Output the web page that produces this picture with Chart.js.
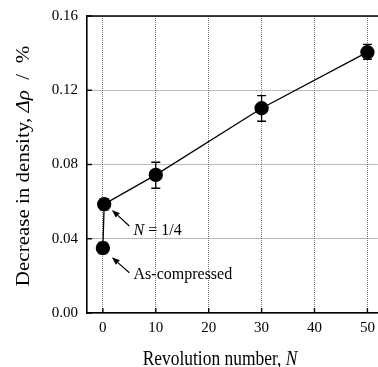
<!DOCTYPE html>
<html><head><meta charset="utf-8">
<script src="https://cdn.jsdelivr.net/npm/chart.js@4/dist/chart.umd.min.js"></script>
<style>html,body{margin:0;padding:0;background:#fff;overflow:hidden}#wrap{width:378px;height:367px;position:relative}</style>
</head><body><div id="wrap"><canvas id="c"></canvas></div>
<script>
// ---- data ----
const revolutions = [0, 0.25, 10, 30, 50];
const densityDecrease = [0.035, 0.0586, 0.0744, 0.1103, 0.1405];
const errorPlus = [0.003, 0.003, 0.0068, 0.0068, 0.0042];
const errorMinus = [0.003, 0.003, 0.0072, 0.007, 0.0038];
const xTicks = [0, 10, 20, 30, 40, 50];
const yTicks = [0, 0.04, 0.08, 0.12, 0.16];
const noteItalic = ['N', ''];
const noteText = [' = 1/4', 'As-compressed'];
const noteX = [5.8, 5.8];
const noteY = [0.0445, 0.0205];
const arrowTailX = [5.0, 5.0];
const arrowTailY = [0.0469, 0.0217];
const arrowHeadX = [1.7, 1.7];
const arrowHeadY = [0.0555, 0.0300];
const xTitle = ['Revolution number, ', 'N'];
const yTitle = ['Decrease in density, ', '\u0394\u03C1', '  /  %'];

const SERIF = '"Liberation Serif", "Times New Roman", serif';

const decor = {
  id: 'decor',
  afterDatasetsDraw(chart) {
    const ctx = chart.ctx, xs = chart.scales.x, ys = chart.scales.y, a = chart.chartArea;
    ctx.save();
    // top border
    ctx.strokeStyle = '#000'; ctx.lineWidth = 1.6;
    ctx.beginPath(); ctx.moveTo(a.left - 0.8, a.top); ctx.lineTo(a.right, a.top); ctx.stroke();
    // inward ticks
    ctx.lineWidth = 1.4;
    xTicks.forEach(v => { const px = xs.getPixelForValue(v); ctx.beginPath(); ctx.moveTo(px, a.bottom); ctx.lineTo(px, a.bottom - 5); ctx.stroke(); });
    yTicks.forEach(v => { const py = ys.getPixelForValue(v); ctx.beginPath(); ctx.moveTo(a.left, py); ctx.lineTo(a.left + 5, py); ctx.stroke(); });
    // error bars
    ctx.lineWidth = 1.3;
    revolutions.forEach((x, i) => {
      const px = xs.getPixelForValue(x);
      const pt = ys.getPixelForValue(densityDecrease[i] + errorPlus[i]);
      const pb = ys.getPixelForValue(densityDecrease[i] - errorMinus[i]);
      ctx.beginPath();
      ctx.moveTo(px, pt); ctx.lineTo(px, pb);
      ctx.moveTo(px - 4.5, pt); ctx.lineTo(px + 4.5, pt);
      ctx.moveTo(px - 4.5, pb); ctx.lineTo(px + 4.5, pb);
      ctx.stroke();
    });
    // arrows
    ctx.fillStyle = '#000';
    arrowTailX.forEach((tx, i) => {
      const x0 = xs.getPixelForValue(tx), y0 = ys.getPixelForValue(arrowTailY[i]);
      const x1 = xs.getPixelForValue(arrowHeadX[i]), y1 = ys.getPixelForValue(arrowHeadY[i]);
      const ang = Math.atan2(y1 - y0, x1 - x0), L = 8, W = 3;
      const bx = x1 - L * Math.cos(ang), by = y1 - L * Math.sin(ang);
      ctx.lineWidth = 1.2;
      ctx.beginPath(); ctx.moveTo(x0, y0); ctx.lineTo(bx, by); ctx.stroke();
      ctx.beginPath(); ctx.moveTo(x1, y1);
      ctx.lineTo(bx + W * Math.sin(ang), by - W * Math.cos(ang));
      ctx.lineTo(bx - W * Math.sin(ang), by + W * Math.cos(ang));
      ctx.closePath(); ctx.fill();
    });
    // notes
    ctx.textBaseline = 'middle'; ctx.textAlign = 'left';
    noteText.forEach((t, i) => {
      let x = xs.getPixelForValue(noteX[i]); const y = ys.getPixelForValue(noteY[i]);
      if (noteItalic[i]) { ctx.font = 'italic 16px ' + SERIF; ctx.fillText(noteItalic[i], x, y); x += ctx.measureText(noteItalic[i]).width; }
      ctx.font = '16px ' + SERIF; ctx.fillText(t, x, y);
    });
    ctx.restore();
  },
  afterDraw(chart) {
    const ctx = chart.ctx;
    ctx.save();
    ctx.fillStyle = '#000'; ctx.textBaseline = 'alphabetic'; ctx.textAlign = 'left';
    // x title
    const fN = '21px ' + SERIF, fI = 'italic 21px ' + SERIF;
    ctx.font = fN; const w0 = ctx.measureText(xTitle[0]).width; ctx.font = fI; const w1 = ctx.measureText(xTitle[1]).width;
    ctx.save(); ctx.translate(220, 365); ctx.scale(0.83, 1);
    let x = -(w0 + w1) / 2;
    ctx.font = fN; ctx.fillText(xTitle[0], x, 0); ctx.font = fI; ctx.fillText(xTitle[1], x + w0, 0);
    ctx.restore();
    // y title
    const fonts = [fN, fI, fN];
    const ws = yTitle.map((t, i) => { ctx.font = fonts[i]; return ctx.measureText(t).width; });
    const tot = ws.reduce((s, v) => s + v, 0);
    ctx.save(); ctx.translate(29, 166); ctx.scale(0.85, 1); ctx.rotate(-Math.PI / 2);
    x = -tot / 2;
    yTitle.forEach((t, i) => { ctx.font = fonts[i]; ctx.fillText(t, x, 0); x += ws[i]; });
    ctx.restore();
    ctx.restore();
  }
};

new Chart(document.getElementById('c'), {
  type: 'scatter',
  data: {
    datasets: [{
      data: revolutions.map((x, i) => ({ x, y: densityDecrease[i] })),
      showLine: true,
      borderColor: '#000', borderWidth: 1.3,
      backgroundColor: '#000', pointBackgroundColor: '#000', pointBorderColor: '#000',
      pointRadius: 6.5, pointHoverRadius: 6.5, tension: 0
    }]
  },
  options: {
    responsive: true, maintainAspectRatio: false, animation: false,
    devicePixelRatio: 1,
    layout: { autoPadding: false, padding: { top: 16, left: 0, right: 0, bottom: 0 } },
    plugins: { legend: { display: false }, tooltip: { enabled: false } },
    scales: {
      x: {
        type: 'linear', min: -3, max: 52,
        afterBuildTicks: s => { s.ticks = xTicks.map(v => ({ value: v })); },
        afterFit: s => { s.height = 54; s.paddingLeft = 0; s.paddingRight = 0; },
        ticks: { color: '#000', font: { family: SERIF, size: 15 }, padding: 6, maxRotation: 0 },
        grid: { color: '#777', lineWidth: 1, drawTicks: false },
        border: { color: '#000', width: 1.6, dash: [1, 1] }
      },
      y: {
        type: 'linear', min: 0, max: 0.16,
        afterBuildTicks: s => { s.ticks = yTicks.map(v => ({ value: v })); },
        afterFit: s => { s.width = 87; s.paddingTop = 0; s.paddingBottom = 0; },
        ticks: { color: '#000', font: { family: SERIF, size: 15 }, padding: 9, callback: v => v.toFixed(2) },
        grid: { color: '#777', lineWidth: 1, drawTicks: false },
        border: { color: '#000', width: 1.6, dash: [1, 1] }
      }
    }
  },
  plugins: [decor]
});
</script></body></html>
